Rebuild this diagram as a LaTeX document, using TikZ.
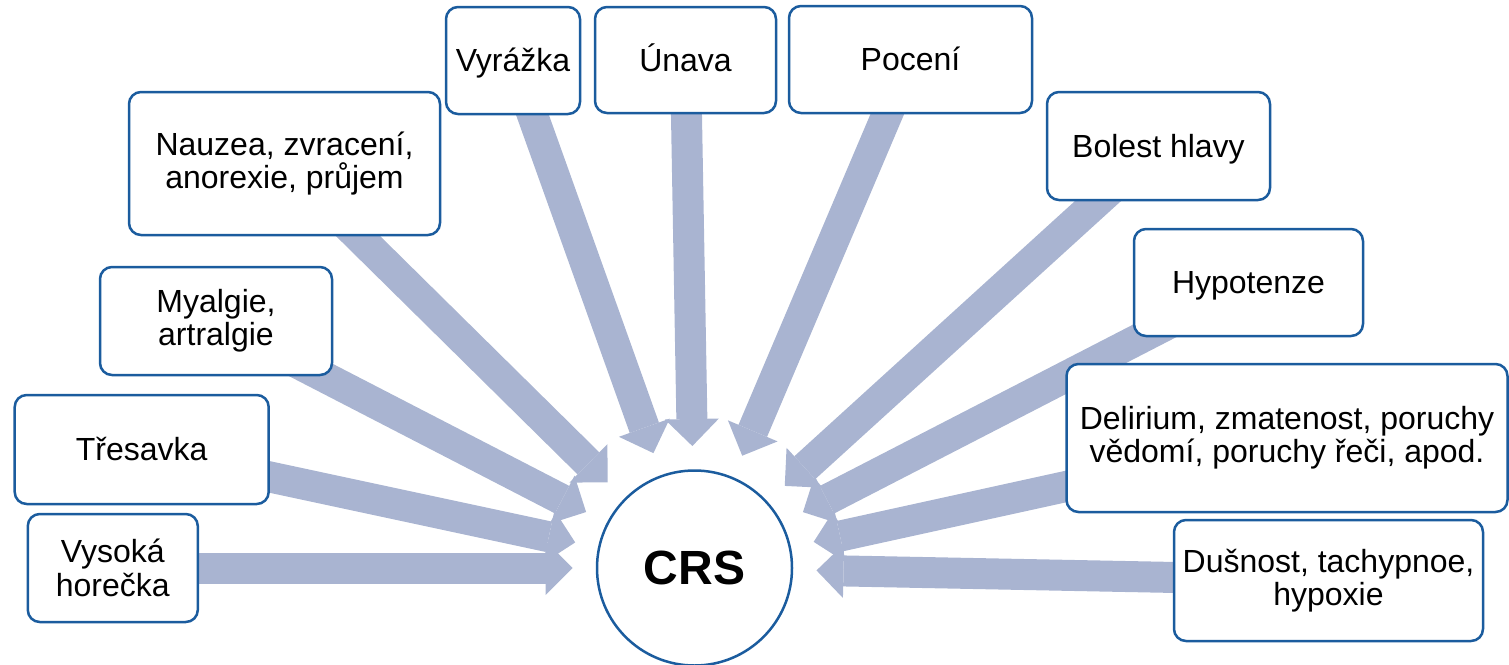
\documentclass[tikz,border=0pt]{standalone}
\usepackage{fontspec}
\setmainfont{Liberation Sans}
\usetikzlibrary{arrows.meta,calc,backgrounds}
\definecolor{boxline}{HTML}{1B5C9E}
\definecolor{arrowfill}{HTML}{A9B4D1}
\tikzset{
  symptom/.style={draw=boxline, line width=1.25pt, fill=white, rounded corners=6pt,
    align=center, inner sep=0pt, font=\fontsize{16pt}{16.7pt}\selectfont},
  oneline/.style={text height=14.5pt, text depth=3.4pt},
  core/.style={circle, draw=boxline, line width=1.25pt, fill=white, minimum size=97.5pt,
    inner sep=0pt, font=\fontsize{24pt}{24pt}\selectfont\bfseries},
  feed/.style={draw=arrowfill, line width=15.5pt,
    -{Triangle[width=27pt,length=13.5pt,line width=0pt,fill=arrowfill]}},
}
\begin{document}
\begin{tikzpicture}[x=0.5pt,y=-0.5pt]
\useasboundingbox (0,0) rectangle (1509,664);

% central syndrome
\node[core] (crs) at (694.5,568) {CRS};

% symptoms around it
\node[symptom, oneline, minimum width=67pt,    minimum height=53.5pt] (vyr) at (513,60.5)    {Vyrážka};
\node[symptom, oneline, minimum width=90.5pt,  minimum height=53pt]   (una) at (685.5,60)    {Únava};
\node[symptom, oneline, minimum width=121.5pt, minimum height=53.5pt] (poc) at (910.5,59.5)  {Pocení};
\node[symptom, oneline, minimum width=111.5pt, minimum height=54pt]   (bol) at (1158.5,146)  {Bolest hlavy};
\node[symptom, oneline, minimum width=114.5pt, minimum height=53.5pt] (hyp) at (1248.5,282.5){Hypotenze};
\node[symptom, minimum width=220.5pt, minimum height=74pt]   (del) at (1287,438)    {Delirium, zmatenost, poruchy\\vědomí, poruchy řeči, apod.};
\node[symptom, minimum width=154.5pt, minimum height=60.5pt] (dus) at (1328.5,580.5){Dušnost, tachypnoe,\\hypoxie};
\node[symptom, minimum width=155.5pt, minimum height=71.5pt] (nau) at (284.5,163.5) {Nauzea, zvracení,\\anorexie, průjem};
\node[symptom, minimum width=116pt,   minimum height=54pt]   (mya) at (216,321)     {Myalgie,\\artralgie};
\node[symptom, oneline, minimum width=127pt,   minimum height=54.5pt] (tre) at (141.7,449.5) {Třesavka};
\node[symptom, minimum width=85pt,    minimum height=54pt]   (vys) at (112.8,568)   {Vysoká\\horečka};

% converging block arrows, behind the boxes
\begin{scope}[on background layer]
  \foreach \b in {vyr,una,poc,bol,hyp,del,dus,nau,mya,tre,vys}
    \draw[feed] (\b.center) -- ($(crs)!61pt!(\b.center)$);
\end{scope}
\end{tikzpicture}
\end{document}
